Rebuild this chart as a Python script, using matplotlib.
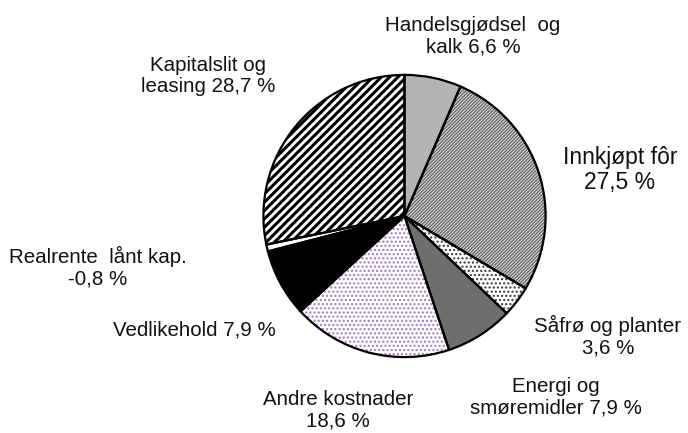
import matplotlib
matplotlib.use("Agg")
import matplotlib.pyplot as plt

plt.rcParams['font.family'] = ['Liberation Sans', 'DejaVu Sans']

# Kostnadsandeler (i %), med klokka fra toppen
kategorier = ['Handelsgjødsel  og\nkalk 6,6 %', 'Innkjøpt fôr\n27,5 %',
              'Såfrø og planter\n3,6 %', 'Energi og\nsmøremidler 7,9 %',
              'Andre kostnader\n18,6 %', 'Vedlikehold 7,9 %',
              'Realrente  lånt kap.\n-0,8 %', 'Kapitalslit og\nleasing 28,7 %']
andeler = [6.6, 27.5, 3.6, 7.9, 18.6, 7.9, -0.8, 28.7]

farger = ['#b3b5b5', '#d0d0d0', 'white', '#6d6e6e', 'white', 'black', 'white', 'white']
monster = [None, '//////////', '....', None, '....', None, None, '////']
monsterfarge = ['#b3b5b5', '#505050', '#333333', '#6d6e6e', '#a274bf', 'black', 'white', 'black']
monsterbredde = [1, 0.7, 1, 1, 1, 1, 1, 2.2]

# plassering av etikettene (piksler i figuren)
etikett_pos = [(473, 36), (620, 170), (608, 336), (556, 397), (338, 410),
               (194, 330), (98, 267), (208, 76)]
etikett_str = [14.8, 16.5, 14.8, 14.8, 14.8, 14.8, 14.8, 14.8]

W, H = 688, 433
fig = plt.figure(figsize=(W / 100, H / 100), dpi=100)
cx, cy, r = 404.5, 216, 142.5
ax = fig.add_axes([(cx - r) / W, (H - cy - r) / H, 2 * r / W, 2 * r / H])

verdier = [abs(v) for v in andeler]

# fyll og mønster
kiler, _ = ax.pie(verdier, startangle=90, counterclock=False, colors=farger,
                  wedgeprops=dict(linewidth=0))
for k, h, mf, lw in zip(kiler, monster, monsterfarge, monsterbredde):
    if h:
        k.set_hatch(h)
        k.set_edgecolor(mf)
        if hasattr(k, 'set_hatch_linewidth'):
            k.set_hatch_linewidth(lw)

# svarte kanter
ax.pie(verdier, startangle=90, counterclock=False,
       wedgeprops=dict(facecolor='none', edgecolor='black', linewidth=1.6))

ax.set_xlim(-1.01, 1.01)
ax.set_ylim(-1.01, 1.01)
ax.set_aspect('equal')
ax.axis('off')

for tekst, (x, y), fs in zip(kategorier, etikett_pos, etikett_str):
    fig.text(x / W, 1 - y / H, tekst, ha='center', va='center',
             fontsize=fs, color='#111111', linespacing=1.15)

fig.savefig('out.png', dpi=100)
